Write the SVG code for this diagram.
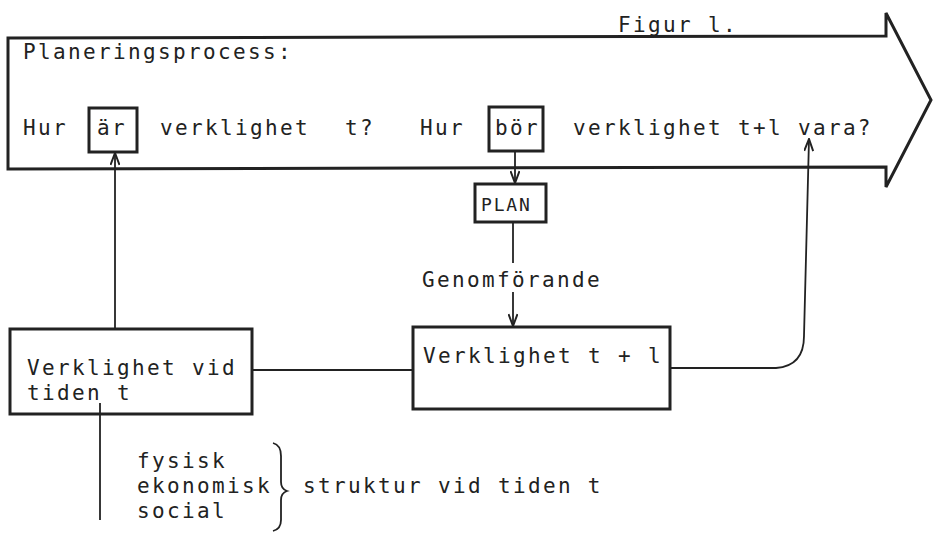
<svg xmlns="http://www.w3.org/2000/svg" width="934" height="533" viewBox="0 0 934 533">
<style>
text{font-family:"DejaVu Sans Mono","Liberation Mono",monospace;font-size:21px;letter-spacing:2.35px;fill:#222}
.b{fill:none;stroke:#222;stroke-width:3}
.l{fill:none;stroke:#222;stroke-width:1.8}
</style>
<defs>
<marker id="ah" viewBox="0 0 14 10" refX="13" refY="5" markerWidth="14" markerHeight="10" markerUnits="userSpaceOnUse" orient="auto">
<path d="M1,0.5 L13,5 L1,9.5" fill="none" stroke="#222" stroke-width="2"/>
</marker>
</defs>
<rect width="934" height="533" fill="#fff"/>
<g id="process">
<path class="b" d="M8,38 L886,36 L886,13 L931,100 L886,187 L886,167 L8,169 Z"/>
<text x="23" y="59">Planeringsprocess:</text>
<text x="618" y="32">Figur l.</text>
<text x="23" y="135">Hur</text>
<text x="160" y="135">verklighet</text>
<text x="345" y="135">t?</text>
<text x="420" y="135">Hur</text>
<text x="573" y="135">verklighet t+l vara?</text>
</g>
<g id="ar">
<rect class="b" x="89" y="108" width="48" height="44"/>
<text x="97" y="135">är</text>
</g>
<g id="bor">
<rect class="b" x="489" y="107" width="54" height="44"/>
<text x="495" y="135">bör</text>
</g>
<g id="plan">
<rect class="b" x="475" y="184" width="71" height="38"/>
<text x="481" y="211" style="font-size:18px;letter-spacing:1.8px">PLAN</text>
</g>
<g id="verklighet-t">
<rect class="b" x="10" y="329" width="242" height="85"/>
<text x="27" y="375">Verklighet vid</text>
<text x="27" y="400">tiden t</text>
</g>
<g id="verklighet-t1">
<rect class="b" x="413" y="327" width="257" height="82"/>
<text x="423" y="363">Verklighet t + l</text>
</g>
<g id="struktur">
<text x="137" y="468">fysisk</text>
<text x="137" y="493">ekonomisk</text>
<text x="137" y="518">social</text>
<path class="l" d="M273,443 Q281,445 281,456 L281,482 Q281,489 287,491 Q281,493 281,500 L281,520 Q281,529 273,531"/>
<text x="303" y="493">struktur vid tiden t</text>
</g>
<g id="connectors">
<line class="l" x1="115" y1="329" x2="115" y2="153" marker-end="url(#ah)"/>
<line class="l" x1="515" y1="151" x2="515" y2="183" marker-end="url(#ah)"/>
<line class="l" x1="513" y1="222" x2="513" y2="263"/>
<line class="l" x1="513" y1="292" x2="513" y2="326" marker-end="url(#ah)"/>
<line class="l" x1="252" y1="370" x2="413" y2="370"/>
<path class="l" d="M670,368 L776,368 Q804,366 804,336 L809,139" marker-end="url(#ah)"/>
<line class="l" x1="100" y1="403" x2="100" y2="520"/>
<text x="422" y="287">Genomförande</text>
</g>
</svg>
